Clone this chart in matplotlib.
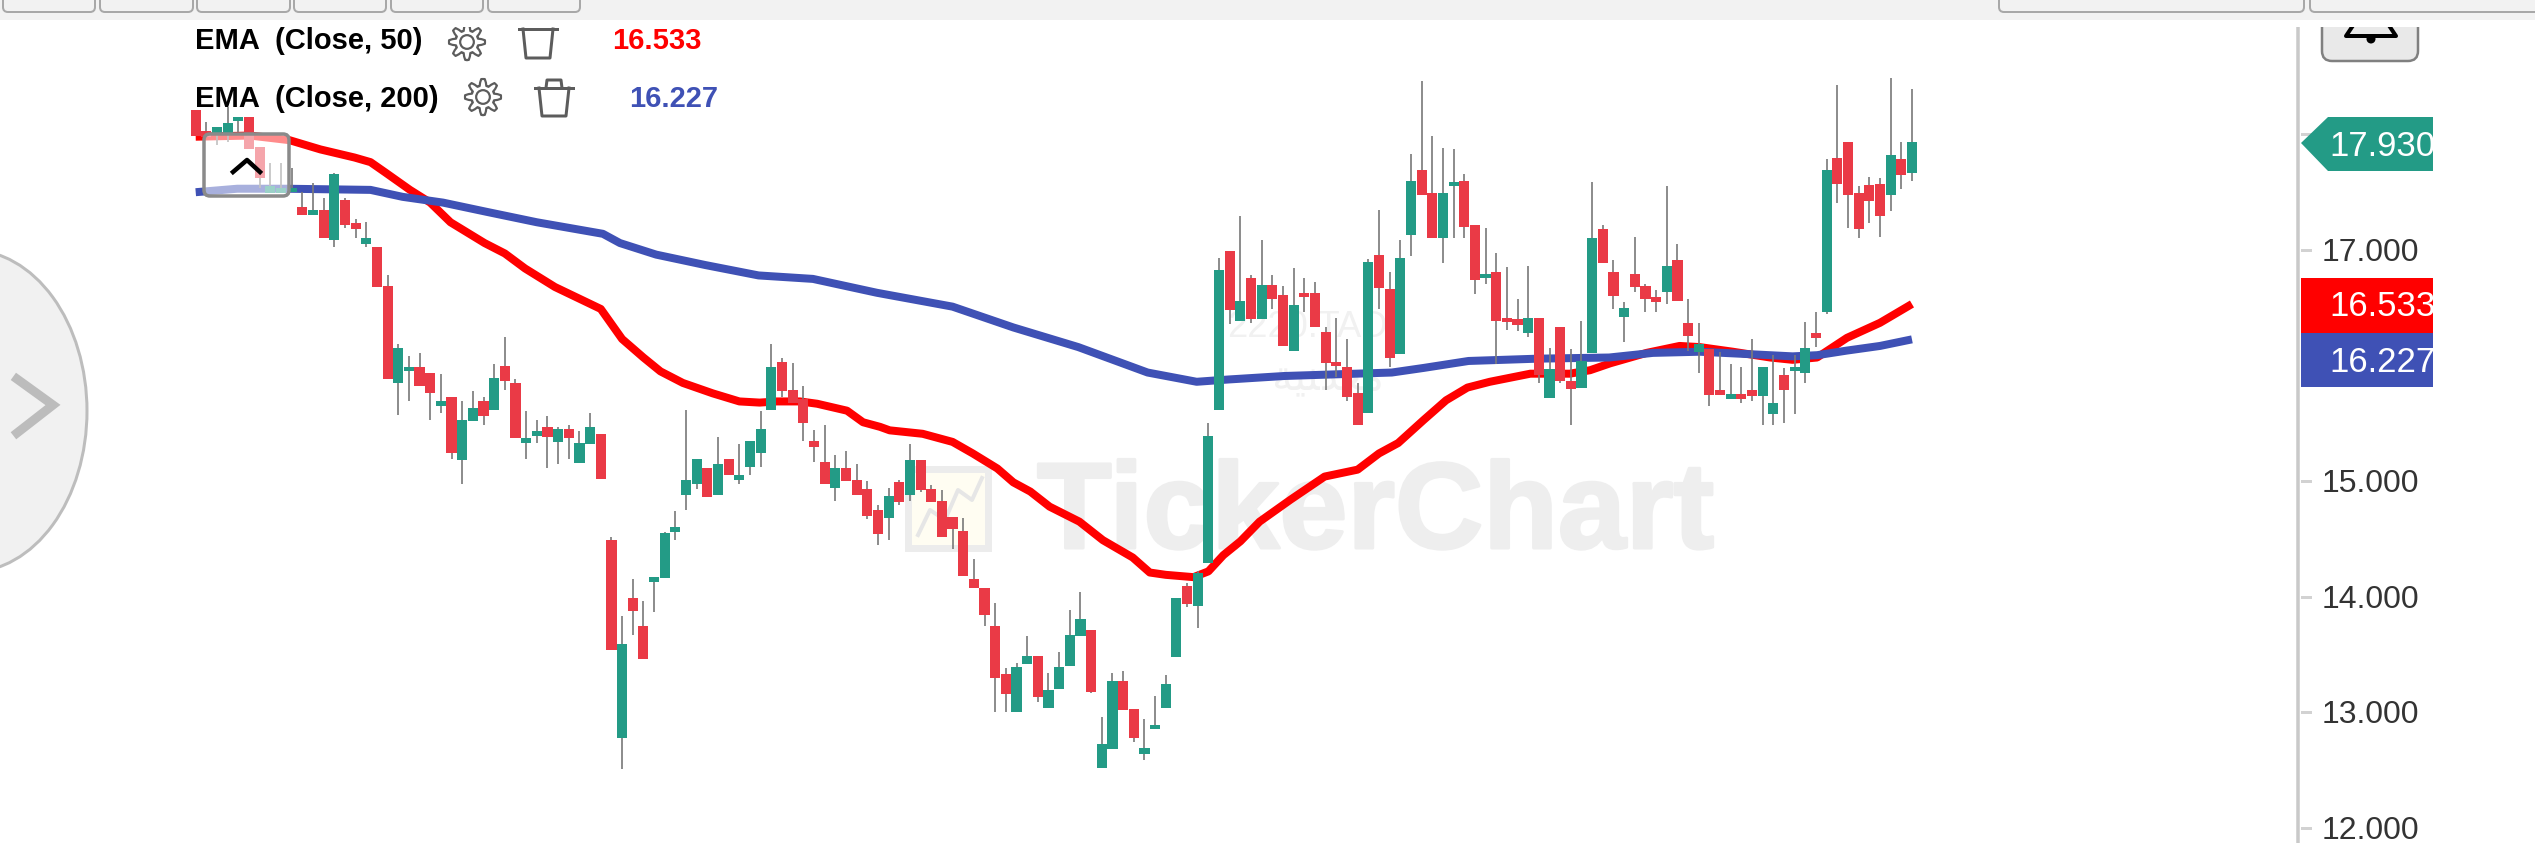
import numpy as np
import matplotlib
matplotlib.use('Agg')
import matplotlib.pyplot as plt
import matplotlib.patheffects as pe
from matplotlib.patches import FancyBboxPatch, Rectangle, Polygon, Ellipse, Circle

plt.rcParams['font.family'] = ['Liberation Sans', 'DejaVu Sans']

opens = [18.21,18.03,18.01,18.01,18.12,18.15,17.89,17.49,17.49,17.50,
         17.37,17.30,17.35,17.09,17.43,17.23,17.05,17.03,16.69,15.85,
         15.95,15.99,15.94,15.65,15.73,15.18,15.52,15.69,15.62,16.00,
         15.85,15.33,15.39,15.47,15.34,15.45,15.16,15.32,15.41,14.49,
         12.78,13.99,13.75,14.13,14.16,14.56,14.88,14.98,15.11,14.88,
         15.19,15.01,15.12,15.24,15.62,16.03,15.79,15.71,15.35,15.17,
         14.94,15.11,15.01,14.93,14.75,14.68,14.99,14.88,15.18,14.93,
         14.83,14.69,14.57,14.15,14.08,13.75,13.33,13.00,13.42,13.49,
         13.04,13.20,13.40,13.66,13.71,12.52,12.68,13.27,13.03,12.64,
         12.86,13.04,13.48,14.09,13.92,14.29,15.62,16.99,16.39,16.76,
         16.40,16.70,16.61,16.13,16.63,16.63,16.29,16.03,15.99,15.76,
         15.59,16.96,16.66,16.10,17.13,17.69,17.49,17.10,17.55,17.60,
         17.22,16.76,16.81,16.41,16.40,16.28,16.41,15.72,16.33,15.87,
         15.81,16.11,17.18,16.81,16.42,16.79,16.69,16.59,16.64,16.91,
         16.37,16.12,16.14,15.79,15.71,15.75,15.79,15.74,15.58,15.92,
         15.95,15.94,16.28,16.46,17.80,17.93,17.49,17.56,17.57,17.48,
         17.79,17.67]
closes = [17.99,17.98,18.06,18.10,18.15,17.87,17.62,17.55,17.54,17.54,
          17.30,17.35,17.10,17.66,17.22,17.18,17.10,16.68,15.88,16.15,
          15.99,15.82,15.76,15.69,15.24,15.53,15.63,15.56,15.89,15.87,
          15.37,15.37,15.43,15.38,15.45,15.37,15.33,15.47,15.02,13.54,
          13.59,13.88,13.46,14.17,14.55,14.60,15.01,15.19,14.86,15.15,
          15.05,15.05,15.35,15.45,15.99,15.78,15.68,15.50,15.30,14.98,
          15.11,15.00,14.88,14.70,14.54,14.87,14.82,15.18,14.92,14.82,
          14.52,14.59,14.18,14.08,13.84,13.30,13.16,13.39,13.49,13.13,
          13.19,13.39,13.67,13.81,13.18,12.73,13.27,13.02,12.78,12.69,
          12.89,13.25,13.99,13.94,14.21,15.39,16.83,16.48,16.56,16.40,
          16.70,16.58,16.17,16.52,16.59,16.33,16.02,16.00,15.73,15.49,
          16.90,16.67,16.07,16.93,17.60,17.48,17.10,17.49,17.59,17.20,
          16.74,16.79,16.39,16.38,16.35,16.41,15.92,15.97,15.87,15.80,
          16.04,17.10,16.89,16.60,16.50,16.68,16.58,16.55,16.86,16.56,
          16.26,16.19,15.75,15.75,15.75,15.71,15.74,15.99,15.68,15.79,
          15.99,16.15,16.24,17.69,17.57,17.48,17.18,17.42,17.29,17.82,
          17.65,17.93]
highs = [18.21,18.11,18.06,18.24,18.15,18.15,17.89,17.75,17.75,17.71,
         17.50,17.58,17.45,17.67,17.45,17.27,17.24,17.03,16.78,16.19,
         16.08,16.11,15.94,15.93,15.73,15.69,15.78,15.73,16.01,16.25,
         15.88,15.61,15.53,15.56,15.47,15.49,15.43,15.59,15.41,14.52,
         13.83,14.15,13.96,14.17,14.56,14.74,15.62,15.19,15.11,15.38,
         15.19,15.32,15.35,15.61,16.19,16.07,16.02,15.82,15.44,15.49,
         15.23,15.26,15.15,15.00,14.79,14.94,15.01,15.32,15.18,14.97,
         14.92,14.69,14.68,14.33,14.08,13.95,13.38,13.43,13.66,13.49,
         13.34,13.52,13.89,14.04,13.71,12.96,13.34,13.36,13.03,12.94,
         13.14,13.32,13.99,14.12,14.22,15.50,16.93,16.99,17.29,16.78,
         17.09,16.78,16.69,16.84,16.76,16.72,16.33,16.41,16.23,15.85,
         16.92,17.35,16.81,17.09,17.83,18.46,17.99,17.88,17.87,17.66,
         17.22,17.19,16.97,16.85,16.58,16.86,16.41,16.15,16.33,16.14,
         16.39,17.59,17.22,16.91,16.55,17.11,16.71,16.65,17.55,17.05,
         16.58,16.37,16.14,16.12,16.01,15.99,16.23,15.99,16.09,15.98,
         16.09,16.38,16.46,17.79,18.43,17.93,17.55,17.63,17.62,18.49,
         17.93,18.39]
lows = [17.99,17.98,17.91,17.93,18.02,17.87,17.54,17.49,17.49,17.50,
        17.30,17.30,17.10,17.03,17.19,17.10,17.03,16.68,15.88,15.57,
        15.69,15.82,15.53,15.59,15.19,14.98,15.52,15.49,15.62,15.79,
        15.37,15.19,15.33,15.11,15.15,15.19,15.16,15.32,15.02,13.54,
        12.51,13.67,13.46,13.87,14.16,14.49,14.75,14.93,14.86,14.88,
        15.05,14.98,15.05,15.12,15.62,15.73,15.68,15.35,15.17,14.98,
        14.83,15.00,14.88,14.67,14.45,14.49,14.79,14.83,14.91,14.82,
        14.52,14.41,14.18,14.08,13.75,13.00,13.00,13.00,13.42,13.09,
        13.04,13.20,13.40,13.66,13.17,12.52,12.68,13.02,12.74,12.59,
        12.86,13.04,13.48,13.91,13.73,14.29,15.62,16.36,16.39,16.37,
        16.40,16.49,16.17,16.13,16.46,16.33,15.79,15.90,15.69,15.49,
        15.59,16.49,15.99,16.10,16.95,17.48,17.10,16.89,17.10,17.10,
        16.62,16.71,16.01,16.31,16.30,16.25,15.85,15.72,15.85,15.49,
        15.81,16.11,16.89,16.49,16.20,16.64,16.46,16.46,16.53,16.56,
        16.13,15.94,15.65,15.75,15.71,15.68,15.69,15.49,15.49,15.50,
        15.58,15.85,16.16,16.45,17.41,17.19,17.10,17.23,17.11,17.34,
        17.53,17.60]

# ema lines, bar number and price
ema50_x = [0,5.1,8.8,11.7,14.9,16.4,17.8,20.1,22,23.9,27.1,29,30.9,33.7,38,40,42,43.6,45.7,
           48.5,51,52.9,54.5,56.7,58.3,61.1,62.6,64.2,65.1,68.2,71,72.9,75.2,76.7,78.3,80.1,
           82.9,85.1,87.9,89.5,91,93.6,95,96.4,98,99.8,102.7,105.9,109,111,112.8,115.2,117.3,
           119.3,121.4,125.2,128.9,130.8,132.7,136.1,139.2,141.1,144.2,147.7,149.8,152.1,
           154.9,158,161]
ema50_y = [17.98,17.99,17.95,17.87,17.80,17.76,17.67,17.52,17.41,17.24,17.06,16.97,16.84,16.68,
           16.49,16.23,16.07,15.95,15.85,15.76,15.69,15.68,15.69,15.69,15.67,15.61,15.51,15.47,
           15.44,15.41,15.34,15.24,15.11,14.99,14.91,14.78,14.65,14.49,14.34,14.21,14.19,14.17,
           14.22,14.36,14.48,14.65,14.84,15.04,15.10,15.24,15.33,15.53,15.70,15.81,15.86,15.93,
           15.93,15.96,16.02,16.11,16.17,16.16,16.12,16.07,16.05,16.07,16.24,16.37,16.533]
ema200_x = [0,3.9,8.6,16.4,19.4,23.2,27.3,32,38.2,39.8,43.2,47.8,52.8,57.9,61.4,63.9,71,76.7,
            82.8,89.3,93.9,96.9,102.1,112.2,115.2,119.4,125.9,132.6,136.7,141.1,145.5,149.8,
            152.1,154.9,158,161]
ema200_y = [17.50,17.53,17.53,17.52,17.46,17.41,17.33,17.24,17.14,17.06,16.96,16.87,16.78,16.75,
            16.68,16.63,16.51,16.33,16.16,15.94,15.86,15.88,15.91,15.94,15.98,16.04,16.06,16.07,
            16.11,16.12,16.10,16.08,16.09,16.13,16.17,16.227]

tick_vals = [17, 15, 14, 13, 12]
tick_marks = [18, 17, 16, 15, 14, 13, 12]
last_price = '17.930'
ema50_label = '16.533'
ema200_label = '16.227'

GREEN = '#239b86'
RED = '#ea3a46'
BLUE = '#3f51b5'
WICK = '#7b7b7b'

W, H = 2535, 843
fig = plt.figure(figsize=(W / 100, H / 100), dpi=100, facecolor='white')


def px(lw):
    return lw * 0.72


# back layer, watermark
back = fig.add_axes([0, 0, 1, 1], zorder=0)
back.set_xlim(0, W)
back.set_ylim(H, 0)
back.axis('off')
back.add_patch(Rectangle((908, 469), 80, 79, fc='#fffdf2', ec='#ececec', lw=px(7)))
back.plot([918, 930, 945, 958, 972, 982], [535, 510, 520, 490, 500, 478], color='#e6e6e6', lw=px(4))
wm = back.text(1037, 548, 'TickerChart', fontsize=88, fontweight='bold', color='#eeeeee',
               va='baseline', ha='left')
wm.set_path_effects([pe.withStroke(linewidth=px(3), foreground='#eeeeee')])
back.text(1227, 337, '2220.TAD', fontsize=26, color='#f1f1f1', va='baseline', ha='left')
back.text(1272, 390, 'ﺔﻴﻨﺪﻌﻣ', fontsize=30, color='#f1f1f1', va='baseline', ha='left',
          family=['DejaVu Sans'])

# chart layer, bars numbered from 0
ax = fig.add_axes([0, 0, 1, 1], zorder=1)
ax.patch.set_alpha(0)
ax.set_xlim(-195.7 / 10.66, (W - 195.7) / 10.66)
ax.set_ylim(17 - (H - 250) / 115.6, 17 + 250 / 115.6)
ax.axis('off')

ax.plot(ema50_x, ema50_y, color='#ff0000', lw=px(8), zorder=2, solid_capstyle='butt')
ax.plot(ema200_x, ema200_y, color=BLUE, lw=px(8), zorder=2.5, solid_capstyle='butt')

bars = np.arange(len(opens))
o = np.array(opens)
c = np.array(closes)
colors = [GREEN if b > a else RED for a, b in zip(o, c)]
ax.vlines(bars, lows, highs, color=WICK, lw=px(1.7), zorder=3)
ax.bar(bars, np.abs(c - o), bottom=np.minimum(o, c), width=0.95, color=colors, zorder=4, lw=0)

# front layer, page chrome in pixels
fr = fig.add_axes([0, 0, 1, 1], zorder=2)
fr.patch.set_alpha(0)
fr.set_xlim(0, W)
fr.set_ylim(H, 0)
fr.axis('off')

# scroll button on the left
fr.add_patch(Ellipse((-30, 411), 234, 322, fc='#f1f1f1', ec='#bdbdbd', lw=px(3)))
fr.plot([17, 53, 17], [379, 405, 433], color='#bcbcbc', lw=px(9), solid_joinstyle='miter')

# collapse button over the first bars
fr.add_patch(FancyBboxPatch((206, 136), 81, 58, boxstyle='round,pad=2,rounding_size=6',
                            fc=(1, 1, 1, 0.55), ec='#8a8a8a', lw=px(3.5)))
fr.plot([233, 247, 260], [172, 160, 172], color='black', lw=px(4.5))


def gear(cx, cy, r):
    ang = np.linspace(0, 2 * np.pi, 65)
    rad = r * (0.82 + 0.18 * np.clip(2.2 * np.cos(8 * ang), -1, 1))
    fr.plot(cx + rad * np.sin(ang), cy + rad * np.cos(ang), color='#5c5c5c', lw=px(2.2))
    fr.add_patch(Circle((cx, cy), r * 0.38, fc='none', ec='#5c5c5c', lw=px(2.2)))


def trash(x0, top, bot, lid=True):
    fr.plot([x0, x0 + 38], [top, top], color='#5c5c5c', lw=px(3))
    fr.plot([x0 + 4, x0 + 7, x0 + 31, x0 + 34], [top, bot, bot, top], color='#5c5c5c', lw=px(3),
            solid_joinstyle='round')
    if lid:
        fr.plot([x0 + 11, x0 + 12, x0 + 26, x0 + 27], [top, top - 8, top - 8, top], color='#5c5c5c', lw=px(3))


txt = dict(fontsize=21, fontweight='bold', va='center', ha='left')
fr.text(195, 41, 'EMA  (Close, 50)', color='black', **txt)
fr.text(195, 99, 'EMA  (Close, 200)', color='black', **txt)
fr.text(612, 41, ema50_label, color='#ff0000', **txt)
fr.text(629, 99, ema200_label, color=BLUE, **txt)
gear(467, 42, 18)
gear(483, 97, 18)
trash(519, 29, 58, lid=False)
trash(535, 88, 116)

# price scale
fr.plot([2298, 2298], [27, H], color='#c9c9c9', lw=px(3.5))
for v in tick_marks:
    y = 250 + (17 - v) * 115.6
    fr.plot([2302, 2310], [y, y], color='#d2d2d2', lw=px(3), zorder=0.5)
for v in tick_vals:
    y = 250 + (17 - v) * 115.6
    fr.text(2370, y + 3, '%.3f' % v, fontsize=23, color='#333333', va='center', ha='center')

fr.add_patch(Polygon([(2301, 143), (2328, 117), (2433, 117), (2433, 171), (2328, 171)], fc=GREEN, ec='none'))
fr.add_patch(Rectangle((2301, 278), 132, 55, fc='#ff0000', ec='none'))
fr.add_patch(Rectangle((2301, 333), 132, 54, fc=BLUE, ec='none'))
clip = Rectangle((2301, 100), 132, 300, transform=fr.transData)
for label, y in [(last_price, 146), (ema50_label, 307), (ema200_label, 362)]:
    t = fr.text(2329, y, label, fontsize=25, color='white', va='center', ha='left')
    t.set_clip_path(clip)

# bell button, cut by the top edge of the chart
fr.add_patch(FancyBboxPatch((2324, 10), 92, 49, boxstyle='round,pad=2,rounding_size=10',
                            fc='#e9e9e9', ec='#808080', lw=px(2.5)))
fr.plot([2352, 2346, 2396, 2390], [27, 36, 36, 27], color='black', lw=px(4))
fr.add_patch(Circle((2371, 39), 4.5, fc='black', ec='none'))

# white strip and grey bar on top
fr.add_patch(Rectangle((0, 19), W, 8, fc='white', ec='none', zorder=5))
fr.add_patch(Rectangle((0, 0), W, 19.5, fc='#f2f2f2', ec='none', zorder=6))
for left, right in [(3, 95), (100, 193), (197, 290), (294, 386), (391, 483), (488, 580), (1999, 2304), (2310, 2600)]:
    fr.add_patch(FancyBboxPatch((left, -20), right - left, 32, boxstyle='round,pad=0,rounding_size=5',
                                fc='#f2f2f2', ec='#a8a8a8', lw=px(2), zorder=7, clip_on=True))

fig.savefig('out.png', dpi=100, facecolor='white')
